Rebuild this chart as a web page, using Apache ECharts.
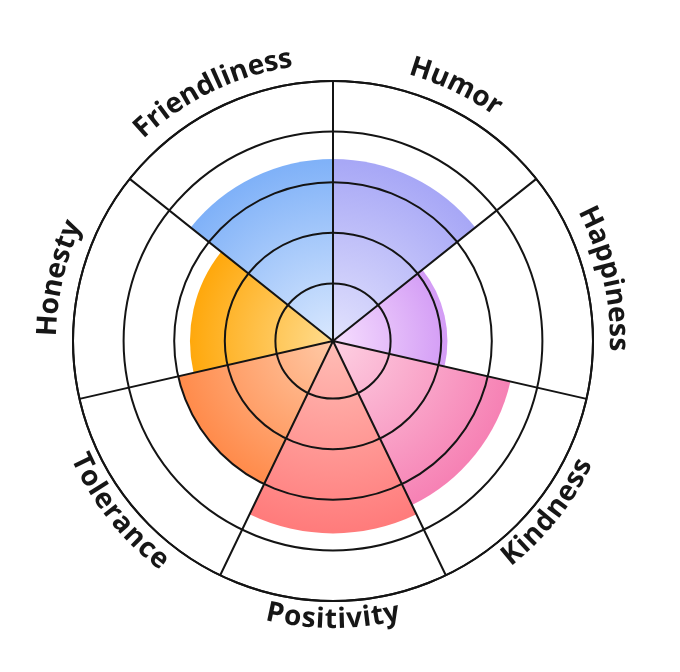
<!DOCTYPE html>
<html>
<head>
<meta charset="utf-8">
<script src="https://cdn.jsdelivr.net/npm/echarts@6/dist/echarts.min.js"></script>
<style>
  html, body { margin: 0; padding: 0; background: #fff; }
  #chart { width: 680px; height: 672px; }
</style>
</head>
<body>
<div id="chart"></div>
<script>
// categories go clockwise from 12 o'clock
const categories = ['Humor', 'Happiness', 'Kindness', 'Positivity', 'Tolerance', 'Honesty', 'Friendliness'];
const scores = [70, 44, 70, 74, 61, 55, 70];
const ringTicks = [0, 1, 2, 3, 4, 5];
const innerColors = ['#e2e2fd', '#f6defe', '#fdd0e2', '#ffbdb6', '#ffc9a6', '#ffdc8e', '#d9e8fe'];
const outerColors = ['#a7a7f6', '#d39cf5', '#f681b4', '#ff7b7b', '#ff8b4b', '#ffa80c', '#7fb1f8'];

const CX = 333, CY = 341, R = 260;
const lineColor = '#141414';
const fontSize = 28;
const fontFamily = '"Open Sans", "Noto Sans", sans-serif';
const letterSpacing = 0.4;

const chart = echarts.init(document.getElementById('chart'));

const measureCtx = document.createElement('canvas').getContext('2d');
measureCtx.font = `700 ${fontSize}px ${fontFamily}`;

const barData = scores.map((v, i) => ({
  value: v,
  itemStyle: {
    color: {
      type: 'radial', x: CX, y: CY, r: R * v / 100, global: true,
      colorStops: [
        { offset: 0, color: innerColors[i] },
        { offset: 1, color: outerColors[i] }
      ]
    }
  }
}));

// curved labels, one letter at a time along the outer ring
const renderLabel = (params, api) => {
  const cs = params.coordSys;
  const name = categories[params.dataIndex];
  const p = api.coord([api.value(0), api.value(1)]);
  const theta = Math.atan2(cs.cy - p[1], p[0] - cs.cx);
  const upper = Math.sin(theta) > -0.2;
  const rMid = upper ? cs.r + 25 : cs.r + 19;
  const chars = name.split('');
  const widths = chars.map(ch => measureCtx.measureText(ch).width);
  const total = widths.reduce((a, b) => a + b, 0) + letterSpacing * (chars.length - 1);
  const span = total / rMid;
  let off = 0;
  const children = chars.map((ch, k) => {
    const d = (off + widths[k] / 2) / rMid;
    off += widths[k] + letterSpacing;
    const a = upper ? theta + span / 2 - d : theta - span / 2 + d;
    return {
      type: 'text',
      x: cs.cx + rMid * Math.cos(a),
      y: cs.cy - rMid * Math.sin(a),
      rotation: upper ? a - Math.PI / 2 : a + Math.PI / 2,
      style: {
        text: ch,
        fill: '#161616',
        fontSize: fontSize,
        fontWeight: 700,
        fontFamily: fontFamily,
        align: 'center',
        verticalAlign: 'middle'
      }
    };
  });
  return { type: 'group', children };
};

const option = {
  animation: false,
  backgroundColor: '#fff',
  polar: [
    { center: [CX, CY], radius: [0, R] },
    { center: [CX, CY], radius: [7, R] }
  ],
  angleAxis: [
    {
      polarIndex: 0,
      type: 'category',
      data: categories,
      startAngle: 90,
      z: 10,
      axisLine: { show: true, lineStyle: { color: lineColor, width: 2 } },
      axisTick: { show: false },
      axisLabel: { show: false },
      splitLine: { show: true, lineStyle: { color: lineColor, width: 2 } }
    },
    { polarIndex: 1, type: 'value', show: false }
  ],
  radiusAxis: [
    {
      polarIndex: 0, type: 'value', min: 0, max: 100,
      axisLine: { show: false }, axisTick: { show: false },
      axisLabel: { show: false }, splitLine: { show: false }
    },
    {
      polarIndex: 1, type: 'value',
      min: ringTicks[0], max: ringTicks[ringTicks.length - 1], interval: 1,
      z: 10,
      axisLine: { show: false }, axisTick: { show: false }, axisLabel: { show: false },
      splitLine: {
        show: true,
        lineStyle: { color: ringTicks.map((t, i) => i === 0 ? 'rgba(0,0,0,0)' : lineColor), width: 2 }
      }
    }
  ],
  series: [
    {
      type: 'bar',
      coordinateSystem: 'polar',
      polarIndex: 0,
      barCategoryGap: '0%',
      data: barData
    },
    {
      type: 'custom',
      coordinateSystem: 'polar',
      polarIndex: 0,
      z: 20,
      silent: true,
      data: categories.map((c, i) => [100, i]),
      renderItem: renderLabel
    }
  ]
};

chart.setOption(option);
</script>
</body>
</html>
